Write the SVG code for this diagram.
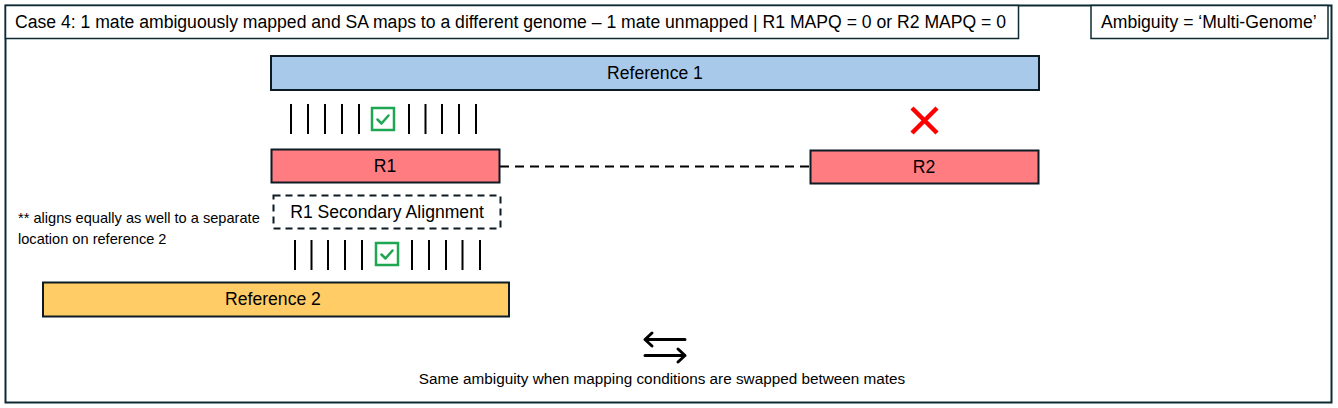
<svg xmlns="http://www.w3.org/2000/svg" width="1338" height="408" viewBox="0 0 1338 408">
<style>
text{font-family:"Liberation Sans",Arial,sans-serif;fill:#000}
.bar{stroke:#0d1b24;stroke-width:2}
.tick{stroke:#000;stroke-width:2}
.chk{fill:none;stroke:#1fa653;stroke-width:2.5}
.t16{font-size:17.6px}
.t14{font-size:14.6px}
.t15{font-size:15.3px}
</style>
<defs>
<g id="check">
<rect class="chk" x="0" y="0" width="22" height="22"/>
<path class="chk" d="M5.5 11.5 L9.5 15.5 L16.5 7.5" stroke-linecap="round" stroke-linejoin="round"/>
</g>
</defs>
<rect x="0" y="0" width="1338" height="408" fill="#fff"/>
<rect id="frame" x="5.5" y="5.5" width="1326" height="397" fill="none" stroke="#0d2a33" stroke-width="2"/>
<g id="title">
<rect x="5.5" y="5.5" width="1013" height="33" fill="#fff" stroke="#0d2a33" stroke-width="1.5"/>
<text class="t16" x="15" y="28">Case 4: 1 mate ambiguously mapped and SA maps to a different genome – 1 mate unmapped | R1 MAPQ = 0 or R2 MAPQ = 0</text>
</g>
<g id="ambiguity">
<rect x="1091" y="5.5" width="237" height="33" fill="#fff" stroke="#0d2a33" stroke-width="1.5"/>
<text class="t16" x="1101" y="28">Ambiguity = ‘Multi-Genome’</text>
</g>
<g id="reference1">
<rect class="bar" x="271" y="56" width="768" height="34" fill="#a9c9ea"/>
<text class="t16" x="655" y="79" text-anchor="middle">Reference 1</text>
</g>
<g id="ticks1">
<path class="tick" d="M291 104V134M308 104V134M325 104V134M342 104V134M359 104V134M409 104V134M425.5 104V134M442 104V134M459 104V134M476 104V134"/>
<use href="#check" x="372" y="108"/>
</g>
<g id="unmapped">
<path d="M912 108L937 133M937 108L912 133" stroke="#f00" stroke-width="4.5"/>
</g>
<g id="connectors">
<path d="M500 166.5H810" stroke="#000" stroke-width="2" stroke-dasharray="9 6"/>
</g>
<g id="r1">
<rect class="bar" x="271.5" y="149.5" width="228" height="33" fill="#ff7c80"/>
<text class="t16" x="385" y="172" text-anchor="middle">R1</text>
</g>
<g id="r2">
<rect class="bar" x="810.5" y="150.5" width="228" height="33" fill="#ff7c80"/>
<text class="t16" x="924" y="173" text-anchor="middle">R2</text>
</g>
<g id="secondary">
<rect x="273.5" y="195.5" width="227" height="33" fill="#fff" stroke="#0d1b24" stroke-width="2" stroke-dasharray="7 5"/>
<text class="t16" x="387" y="218" text-anchor="middle">R1 Secondary Alignment</text>
</g>
<g id="note">
<text class="t14" x="18" y="223">** aligns equally as well to a separate</text>
<text class="t14" x="18" y="244">location on reference 2</text>
</g>
<g id="ticks2">
<path class="tick" d="M295 240V270M311.5 240V270M328 240V270M345 240V270M362 240V270M412 240V270M429 240V270M446 240V270M462.5 240V270M480 240V270"/>
<use href="#check" x="376" y="243"/>
</g>
<g id="reference2">
<rect class="bar" x="43" y="282.5" width="466" height="34" fill="#ffcc66"/>
<text class="t16" x="273" y="305" text-anchor="middle">Reference 2</text>
</g>
<g id="swap">
<path d="M645 339.5H685M652 333L645 339.5L652 346M645 355.5H685M678 349L685 355.5L678 362" fill="none" stroke="#000" stroke-width="3" stroke-linecap="round" stroke-linejoin="round"/>
<text class="t15" x="662" y="384" text-anchor="middle">Same ambiguity when mapping conditions are swapped between mates</text>
</g>
</svg>
